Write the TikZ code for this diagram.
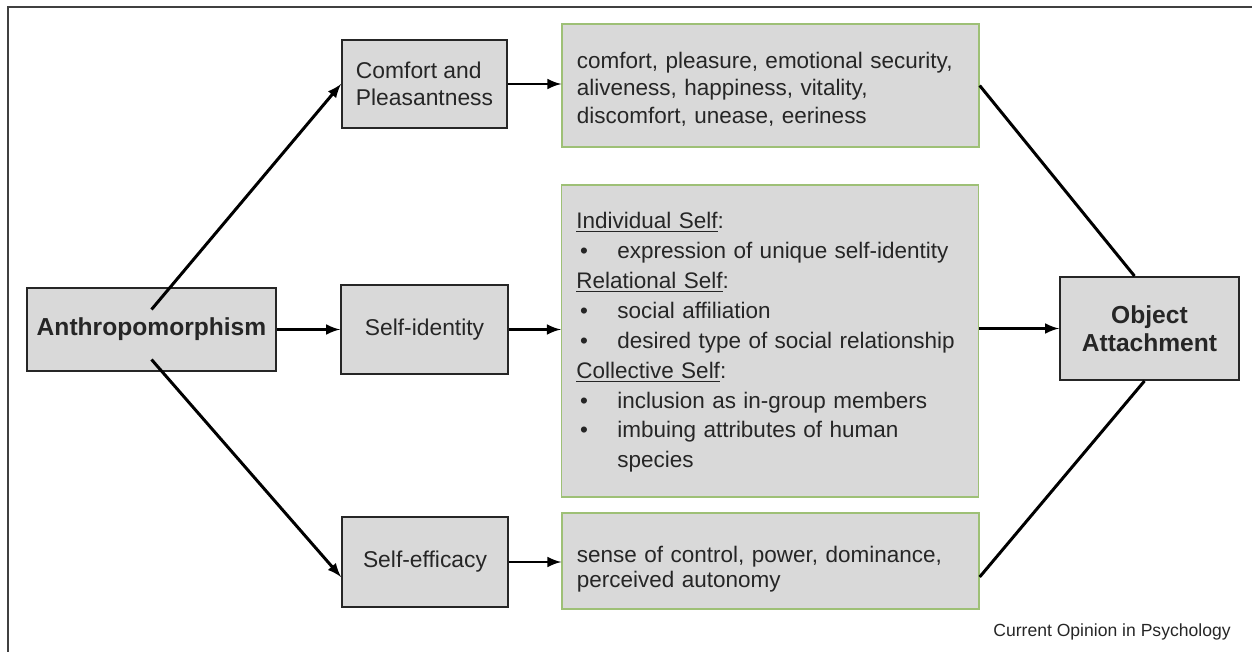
\documentclass[tikz,border=0pt]{standalone}
\usepackage{fontspec}
\setmainfont{Liberation Sans}
\usepackage{tikz}
\usetikzlibrary{arrows, calc}
\usepackage{xcolor}
\definecolor{boxgrey}{RGB}{217,217,217}
\definecolor{leafgreen}{RGB}{158,192,118}
\definecolor{inkgrey}{RGB}{38,38,38}
\tikzset{
    greybox/.style={draw=black!85, fill=boxgrey, line width=1.1pt, inner sep=0pt,
        text=inkgrey, font=\fontsize{13}{15.5}\selectfont},
    listbox/.style={draw=leafgreen, fill=boxgrey, line width=0.8pt, inner sep=0pt,
        minimum width=8.34cm, text width=7.75cm, align=left, text=inkgrey},
    flow/.style={-latex, line width=1.7pt, draw=black}
}
\newcommand{\selfitem}{\makebox[0.82cm][l]{\,\textbullet}}

\begin{document}
\begin{tikzpicture}[x=0.02cm, y=0.02cm]
    \useasboundingbox (0,0) rectangle (1252,-652);
    \draw[line width=0.9pt, draw=black!75] (8,-652) -- (8,-7) -- (1252,-7);

    % left column
    \node[greybox, minimum width=4.98cm, minimum height=1.66cm,
          font=\fontsize{14}{16}\selectfont\bfseries] (anthro) at (151.5,-329.5) {Anthropomorphism};

    % middle column
    \node[greybox, minimum width=3.3cm, minimum height=1.76cm, align=left] (comf) at (424.5,-84)
        {Comfort and\\Pleasantness};
    \node[greybox, minimum width=3.34cm, minimum height=1.78cm] (ident) at (424.5,-329.5) {Self-identity};
    \node[greybox, minimum width=3.32cm, minimum height=1.8cm] (effic) at (425,-562) {Self-efficacy};

    % lists
    \node[listbox, minimum height=2.46cm, font=\fontsize{12.8}{15.8}\selectfont] (comfList) at (770.5,-85.5)
        {\rule{0pt}{13.5pt}comfort, pleasure, emotional security,\\
         aliveness, happiness, vitality,\\
         discomfort, unease, eeriness};
    \node[listbox, minimum height=6.24cm, font=\fontsize{12.8}{17}\selectfont] (identList) at (770,-341)
        {\rule{0pt}{11pt}\underline{Individual Self}:\\
         \selfitem expression of unique self-identity\\
         \underline{Relational Self}:\\
         \selfitem social affiliation\\
         \selfitem desired type of social relationship\\
         \underline{Collective Self}:\\
         \selfitem inclusion as in-group members\\
         \selfitem imbuing attributes of human\\
         \hspace*{0.82cm}species};
    \node[listbox, minimum height=1.92cm, font=\fontsize{12.8}{13.8}\selectfont] (efficList) at (770.5,-561)
        {\rule{0pt}{18.5pt}sense of control, power, dominance,\\
         perceived autonomy};

    % right column
    \node[greybox, minimum width=3.58cm, minimum height=2.06cm, align=center,
          font=\fontsize{14}{16}\selectfont\bfseries] (attach) at (1149.5,-328.5) {Object\\Attachment};

    \node[text=inkgrey, font=\fontsize{10}{12}\selectfont] (source) at (1112,-632) {Current Opinion in Psychology};

    % connectors
    \draw[flow] ($(anthro.center)+(0,20)$) -- (comf.west);
    \draw[flow] (anthro.east) -- (ident.west);
    \draw[flow] ($(anthro.center)+(0,-30)$) -- ($(effic.west)+(0,-15)$);
    \draw[flow] (comf.east) -- (comf.east -| comfList.west);
    \draw[flow] (ident.east) -- (ident.east -| identList.west);
    \draw[flow] (effic.east) -- (effic.east -| efficList.west);
    \draw[line width=1.7pt] (comfList.east) -- ($(attach.north)+(-15,0)$);
    \draw[flow] (identList.east |- attach.west) -- (attach.west);
    \draw[line width=1.7pt] ($(efficList.east)+(0,-16)$) -- ($(attach.south)+(-5,0)$);
\end{tikzpicture}
\end{document}
